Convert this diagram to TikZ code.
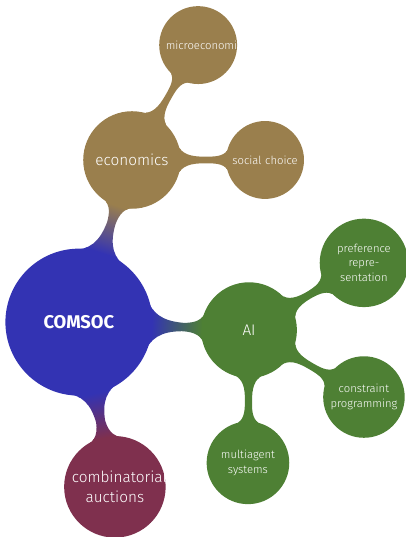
\documentclass[tikz,border=0pt]{standalone}
\usepackage{fontspec}
\setmainfont{Fira Sans Light}[BoldFont=Fira Sans Bold]
\usetikzlibrary{mindmap}

\definecolor{socblue}{RGB}{51,51,179}
\definecolor{econbrown}{RGB}{154,127,77}
\definecolor{aigreen}{RGB}{78,128,52}
\definecolor{auctionred}{RGB}{127,48,78}

\begin{document}
\begin{tikzpicture}[
    mindmap,
    topic/.style={
        concept, circle, text=white, inner sep=0pt, align=center
    },
    rootbox/.style={
        topic, minimum size=4cm, text width=3cm, font=\Large\bfseries
    },
    mainbox/.style={
        topic, minimum size=2.6cm, text width=2.2cm,
        font=\fontsize{12}{15.5}\selectfont
    },
    subbox/.style={
        topic, minimum size=2.1cm, text width=1.9cm,
        font=\fontsize{8.8}{11.5}\selectfont
    },
    bigbar/.style={line width=6.5pt},
    smallbar/.style={line width=5pt}
]
\useasboundingbox (0,0) rectangle (11.14,-14.77);

% 1. Root
\node[rootbox, concept color=socblue] (comsoc) at (2.17,-8.86) {COMSOC};

% 2. First ring
\node[mainbox, concept color=econbrown, minimum size=2.64cm] (econ) at (3.63,-4.40) {economics};
\node[mainbox, concept color=aigreen, minimum size=2.59cm] (ai) at (6.85,-9.08) {AI};
% "combinatorial" is wider than the text box and runs past the circle
\node[mainbox, concept color=auctionred, minimum size=2.75cm, text width=2.37cm] (auctions) at (3.16,-13.39) {combinatorial\\auctions};

% 3. Second ring
\node[subbox, concept color=econbrown, text width=1.78cm] (micro) at (5.45,-1.24) {microeconomics};
\node[subbox, concept color=econbrown, text width=2cm] (social) at (7.29,-4.40) {social choice};
\node[subbox, concept color=aigreen, minimum size=2.39cm, text width=1.8cm] (pref) at (10.01,-7.23) {preference\\repre-\\sentation};
\node[subbox, concept color=aigreen, minimum size=2.2cm] (constraint) at (10.01,-10.92) {constraint\\programming};
\node[subbox, concept color=aigreen, minimum size=2.23cm, text width=1.8cm] (multi) at (6.82,-12.73) {multiagent\\systems};

% 4. Connection bars
\path[bigbar] (comsoc) to[circle connection bar switch color=from (socblue) to (econbrown)] (econ);
\path[bigbar] (comsoc) to[circle connection bar switch color=from (socblue) to (aigreen)] (ai);
\path[bigbar] (comsoc) to[circle connection bar switch color=from (socblue) to (auctionred)] (auctions);

\path[smallbar] (econ) to[circle connection bar switch color=from (econbrown) to (econbrown)] (micro);
\path[smallbar] (econ) to[circle connection bar switch color=from (econbrown) to (econbrown)] (social);
\path[smallbar] (ai) to[circle connection bar switch color=from (aigreen) to (aigreen)] (pref);
\path[smallbar] (ai) to[circle connection bar switch color=from (aigreen) to (aigreen)] (constraint);
\path[smallbar] (ai) to[circle connection bar switch color=from (aigreen) to (aigreen)] (multi);

\end{tikzpicture}
\end{document}
